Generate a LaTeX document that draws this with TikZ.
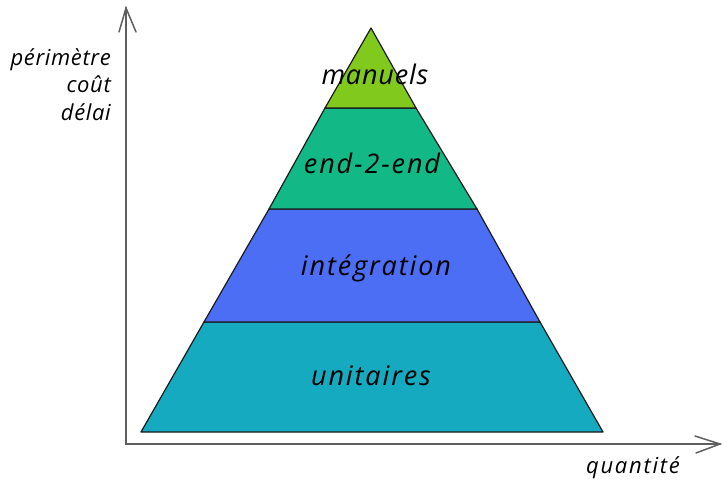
\documentclass[tikz,border=0pt]{standalone}
\usepackage{fontspec}
\setmainfont{Open Sans}
\newfontfamily\bigface[LetterSpace=7]{Open Sans}
\newfontfamily\manface[LetterSpace=3]{Open Sans}
\newfontfamily\smallface[LetterSpace=3]{Open Sans}
\newfontfamily\wideface[LetterSpace=8]{Open Sans}
\definecolor{cgreen}{HTML}{82C91E}
\definecolor{cteal}{HTML}{12B886}
\definecolor{cblue}{HTML}{4C6EF5}
\definecolor{ccyan}{HTML}{15AABF}
\definecolor{cink}{HTML}{1B1B1B}
\definecolor{caxis}{HTML}{5F5F5F}
\tikzset{
  layer/.style={draw=cink,line width=1.2pt,line join=round},
  axisline/.style={draw=caxis,line width=2.6pt,line cap=round,line join=miter},
  barb/.style={draw=caxis,line width=1.5pt,line cap=round},
  big/.style={text=black,font=\bigface\itshape\fontsize{27}{30}\selectfont,inner sep=0pt},
  bigtight/.style={text=black,font=\manface\itshape\fontsize{27}{30}\selectfont,inner sep=0pt},
  small/.style={text=black,font=\smallface\itshape\fontsize{22}{27.5}\selectfont,inner sep=0pt},
  xsmall/.style={text=black,font=\wideface\itshape\fontsize{22}{27.5}\selectfont,inner sep=0pt},
}
\begin{document}
\begin{tikzpicture}[x=1pt,y=-1pt]
\useasboundingbox (0,0) rectangle (728,492);
\fill[white] (0,0) rectangle (728,492);
% pyramid
\draw[layer,fill=ccyan] (204,322) -- (540,322) -- (603,432) -- (141,432) -- cycle;
\draw[layer,fill=cblue] (269,209) -- (477,209) -- (540,322) -- (204,322) -- cycle;
\draw[layer,fill=cteal] (325,108) -- (416,108) -- (477,209) -- (269,209) -- cycle;
\draw[layer,fill=cgreen] (371,28) -- (416,108) -- (325,108) -- cycle;
% axes
\coordinate (origin) at (126,444);
\coordinate (ytip) at (126,8);
\coordinate (xtip) at (720,444);
\coordinate (yb1) at (119,32);
\coordinate (yb2) at (136,32);
\coordinate (xb1) at (695,436);
\coordinate (xb2) at (696,453);
\draw[axisline] (ytip) -- (origin) -- (xtip);
\draw[barb] (yb1) -- (ytip) -- (yb2);
\draw[barb] (xb1) -- (xtip) -- (xb2);
% labels
\node[bigtight] (manuels) at (375,74) {manuels};
\node[big] (e2e) at (372,163) {end-2-end};
\node[big] (integ) at (376,268) {intégration};
\node[big] (unit) at (371,376) {unitaires};
\node[small,align=right,anchor=north east] (ylab) at (111,48) {périmètre\\coût\\délai};
\node[xsmall] (xlab) at (633,468) {quantité};
\end{tikzpicture}
\end{document}
